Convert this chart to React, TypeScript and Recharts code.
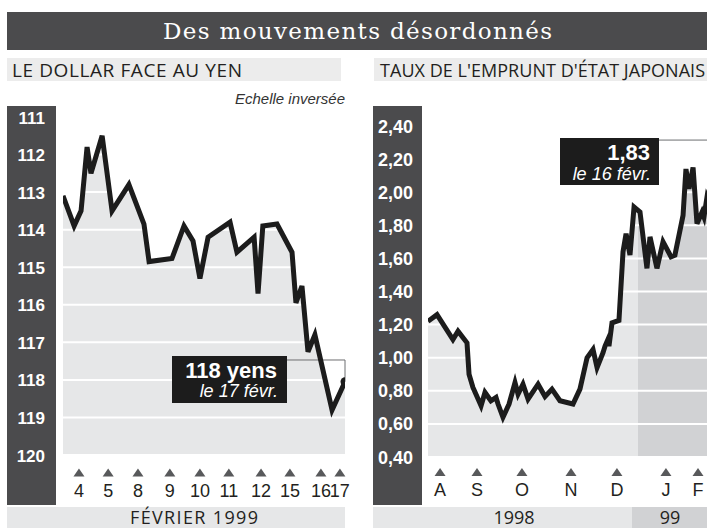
import React from 'react';
import { ComposedChart, Area, Line, XAxis, YAxis, CartesianGrid, ReferenceLine } from 'recharts';

// Dollar face au yen, février 1999 (jour = séances, échelle inversée)
const yenJour = [0, 0.37, 0.6, 0.8, 0.93, 1.3, 1.63, 2.19, 2.69, 2.86, 3.62, 4.02, 4.32, 4.55, 4.82, 5.55, 5.78, 6.35, 6.48, 6.64, 7.11, 7.61, 7.74, 7.94, 8.14, 8.37, 8.94, 9.37];
const yenCours = [113.1, 113.9, 113.5, 111.8, 112.5, 111.5, 113.5, 112.8, 113.85, 114.85, 114.77, 113.9, 114.3, 115.3, 114.2, 113.8, 114.6, 114.2, 115.7, 113.9, 113.85, 114.6, 115.95, 115.5, 117.25, 116.8, 118.8, 118.05];
const yenTickPos = [0.53, 1.5, 2.49, 3.55, 4.55, 5.51, 6.58, 7.54, 8.57, 9.2];
const yenTickLabels = ['4', '5', '8', '9', '10', '11', '12', '15', '16', '17'];
const yenYTicks = [111, 112, 113, 114, 115, 116, 117, 118, 119, 120];

// Taux de l'emprunt d'Etat japonais, août 1998 - février 1999 (jour = jours depuis fin juillet)
const tauxJour = [0, 6.2, 17.2, 20.7, 26.9, 28.3, 31.0, 36.6, 39.3, 43.4, 46.9, 48.3, 51.7, 55.9, 60.0, 62.1, 65.5, 69.0, 75.9, 80.7, 85.5, 91.0, 100.0, 104.8, 109.7, 113.8, 116.6, 120.7, 122.1, 124.1, 124.8, 126.9, 131.7, 134.5, 136.6, 139.3, 142.1, 146.2, 151.0, 153.1, 157.9, 162.1, 167.6, 170.3, 175.9, 177.9, 180.0, 182.8, 185.5, 189.0, 190.3, 192.4, 195.9, 200.0];
const tauxValeur = [1.22, 1.26, 1.11, 1.16, 1.09, 0.90, 0.82, 0.71, 0.79, 0.74, 0.76, 0.72, 0.64, 0.72, 0.85, 0.78, 0.84, 0.75, 0.84, 0.765, 0.81, 0.74, 0.72, 0.81, 1.00, 1.05, 0.94, 1.03, 1.07, 1.11, 1.07, 1.21, 1.225, 1.64, 1.75, 1.62, 1.91, 1.88, 1.54, 1.73, 1.54, 1.70, 1.61, 1.62, 1.86, 2.14, 2.02, 2.15, 1.81, 1.88, 1.85, 1.97, 1.90, 1.83];
const tauxTickPos = [8.3, 33.8, 64.8, 98.6, 130.3, 164.1, 186.2];
const tauxTickLabels = ['A', 'S', 'O', 'N', 'D', 'J', 'F'];
const tauxYTicks = [0.4, 0.6, 0.8, 1.0, 1.2, 1.4, 1.6, 1.8, 2.0, 2.2, 2.4];
const debut1999 = 144.8;

const yenData = yenJour.map((jour, i) => ({ jour, cours: yenCours[i] }));
const tauxData = tauxJour.map((jour, i) => ({ jour, taux: tauxValeur[i] }));
const part1998 = (debut1999 - tauxJour[0]) / (tauxJour[tauxJour.length - 1] - tauxJour[0]);

const DARK = '#4b4b4d';
const LIGHT = '#e6e7e8';
const MID = '#d1d2d4';
const INK = '#1c1c1c';
const TEXT = '#231f20';
const sans = '"Liberation Sans", Arial, sans-serif';
const humanist = '"Open Sans", sans-serif';

const makeXTick = (labels: string[], pos: number[], dy: number) => (props: any) => {
  const { x, y, payload } = props;
  const idx = pos.indexOf(payload.value);
  return (
    <g>
      <path d={`M${x - 5.5},${y + dy + 8} L${x + 5.5},${y + dy + 8} L${x},${y + dy} Z`} fill="#58595b" />
      <text x={x} y={y + dy + 28} textAnchor="middle" fontSize={18} fill={TEXT} fontFamily={sans}>
        {labels[idx]}
      </text>
    </g>
  );
};

const makeYTick = (fmt: (v: number) => string, gap: number, size: number) => (props: any) => {
  const { x, y, payload } = props;
  return (
    <text x={x - gap} y={y + 6.5} textAnchor="end" fontSize={size} fontWeight={700} fill="#fff" fontFamily={sans}>
      {fmt(payload.value)}
    </text>
  );
};

const App: React.FC = () => {
  const lastYen = yenData.length - 1;
  return (
    <div style={{ position: 'absolute', left: 0, top: 0, width: 707, height: 530, overflow: 'hidden', background: '#fff' }}>
      {/* Bandeaux d'axe */}
      <div style={{ position: 'absolute', left: 7, top: 106, width: 49, height: 399, background: DARK }} />
      <div style={{ position: 'absolute', left: 373, top: 106, width: 49, height: 399, background: DARK }} />

      {/* Dollar / yen */}
      <div style={{ position: 'absolute', left: 7, top: 106 }}>
        <ComposedChart width={350} height={400} data={yenData} margin={{ top: 11, right: 12, left: 0, bottom: 0 }}>
          <XAxis dataKey="jour" type="number" domain={[0, 9.37]} ticks={yenTickPos} interval={0} axisLine={false} tickLine={false} tickSize={0} tickMargin={0} height={51} tick={makeXTick(yenTickLabels, yenTickPos, 13.5)} allowDataOverflow />
          <YAxis type="number" domain={[111, 120]} ticks={yenYTicks} reversed interval={0} axisLine={false} tickLine={false} tickSize={0} tickMargin={0} width={56} tick={makeYTick((v) => String(v), 18, 17)} allowDataOverflow />
          <Area dataKey="cours" type="linear" baseValue={120} fill={LIGHT} fillOpacity={1} stroke="none" isAnimationActive={false} />
          <CartesianGrid vertical={false} stroke="#fff" strokeWidth={2} zIndex={150} />
          <ReferenceLine segment={[{ x: 7.44, y: 117.47 }, { x: 9.37, y: 117.47 }]} stroke="#6d6e70" strokeWidth={1} />
          <ReferenceLine segment={[{ x: 9.37, y: 117.47 }, { x: 9.37, y: 118.05 }]} stroke="#6d6e70" strokeWidth={1} />
          <Line
            dataKey="cours"
            type="linear"
            stroke={INK}
            strokeWidth={5}
            isAnimationActive={false}
            dot={(p: any) => (p.index === lastYen ? <circle key="fin" cx={p.cx} cy={p.cy} r={4.5} fill={INK} /> : <g key={`d${p.index}`} />)}
            activeDot={false}
          />
        </ComposedChart>
      </div>

      {/* Taux japonais */}
      <div style={{ position: 'absolute', left: 373, top: 106 }}>
        <ComposedChart width={350} height={400} data={tauxData} margin={{ top: 20, right: 5, left: 0, bottom: 0 }}>
          <defs>
            <linearGradient id="annees" x1="0" y1="0" x2="1" y2="0">
              <stop offset={part1998} stopColor={LIGHT} />
              <stop offset={part1998} stopColor={MID} />
            </linearGradient>
          </defs>
          <XAxis dataKey="jour" type="number" domain={[0, 200]} ticks={tauxTickPos} interval={0} axisLine={false} tickLine={false} tickSize={0} tickMargin={0} height={49} tick={makeXTick(tauxTickLabels, tauxTickPos, 11)} allowDataOverflow />
          <YAxis type="number" domain={[0.4, 2.4]} ticks={tauxYTicks} interval={0} axisLine={false} tickLine={false} tickSize={0} tickMargin={0} width={55} tick={makeYTick((v) => v.toFixed(2).replace('.', ','), 15, 18)} allowDataOverflow />
          <Area dataKey="taux" type="linear" baseValue={0.4} fill="url(#annees)" fillOpacity={1} stroke="none" isAnimationActive={false} />
          <CartesianGrid vertical={false} stroke="#fff" strokeWidth={2} zIndex={150} />
          <ReferenceLine segment={[{ x: 159.3, y: 2.315 }, { x: 200, y: 2.315 }]} stroke="#6d6e70" strokeWidth={1} />
          <Line dataKey="taux" type="linear" stroke={INK} strokeWidth={5} dot={false} activeDot={false} isAnimationActive={false} />
        </ComposedChart>
      </div>

      {/* Titres, bandeaux et annotations */}
      <svg width={707} height={530} style={{ position: 'absolute', left: 0, top: 0, pointerEvents: 'none' }}>
        <rect x={7} y={12} width={700} height={38} fill={DARK} />
        <text x={163} y={39} textLength={389} lengthAdjust="spacing" fontFamily='"DejaVu Serif", serif' fontSize={23} fill="#fff">
          Des mouvements désordonnés
        </text>

        <rect x={7} y={58} width={334} height={23} fill="#ececec" />
        <text x={12} y={77} textLength={230} lengthAdjust="spacing" fontFamily={humanist} fontSize={19} fill={TEXT}>
          LE DOLLAR FACE AU YEN
        </text>
        <rect x={374} y={58} width={333} height={23} fill="#ececec" />
        <text x={380} y={77} textLength={325} lengthAdjust="spacing" fontFamily={humanist} fontSize={18} fill={TEXT}>
          TAUX DE L'EMPRUNT D'ÉTAT JAPONAIS
        </text>
        <text x={345} y={104} textAnchor="end" fontFamily={sans} fontStyle="italic" fontSize={15} fill="#333">
          Echelle inversée
        </text>

        <rect x={7} y={507} width={338} height={21} fill={LIGHT} />
        <text x={130} y={524} textLength={128} lengthAdjust="spacing" fontFamily={humanist} fontSize={18} fill={TEXT}>
          FÉVRIER 1999
        </text>
        <rect x={373} y={507} width={259} height={21} fill={LIGHT} />
        <rect x={632} y={507} width={75} height={21} fill={MID} />
        <text x={514} y={524} textAnchor="middle" fontFamily={humanist} fontSize={18} fill={TEXT}>1998</text>
        <text x={670} y={524} textAnchor="middle" fontFamily={humanist} fontSize={18} fill={TEXT}>99</text>

        <rect x={172} y={356} width={115} height={47} fill={INK} />
        <text x={277} y={378} textAnchor="end" fontFamily={sans} fontWeight={700} fontSize={22} fill="#fff">118 yens</text>
        <text x={278} y={397} textAnchor="end" fontFamily={sans} fontStyle="italic" fontSize={18} fill="#fff">le 17 févr.</text>
        <rect x={560} y={138} width={99} height={47} fill={INK} />
        <text x={650} y={160} textAnchor="end" fontFamily={sans} fontWeight={700} fontSize={22} fill="#fff">1,83</text>
        <text x={651} y={180} textAnchor="end" fontFamily={sans} fontStyle="italic" fontSize={18} fill="#fff">le 16 févr.</text>
      </svg>
    </div>
  );
};

export default App;
